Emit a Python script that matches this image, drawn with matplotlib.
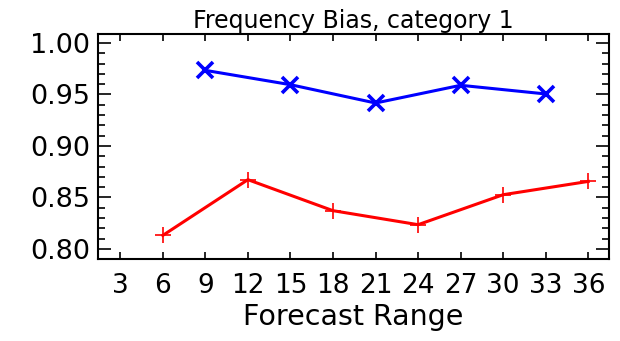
import matplotlib
matplotlib.use('Agg')
import matplotlib.pyplot as plt
from matplotlib.ticker import MultipleLocator

# Forecast ranges (hours) and frequency bias values
blue_range = [9, 15, 21, 27, 33]
blue_bias = [0.9734, 0.9595, 0.9417, 0.9589, 0.9505]
red_range = [6, 12, 18, 24, 30, 36]
red_bias = [0.8132, 0.8673, 0.8372, 0.8236, 0.8527, 0.8656]
xticks = [3, 6, 9, 12, 15, 18, 21, 24, 27, 30, 33, 36]
yticks = [0.80, 0.85, 0.90, 0.95, 1.00]

plt.rcParams['font.family'] = 'DejaVu Sans'

fig = plt.figure(figsize=(6.2, 3.41), dpi=100)
ax = fig.add_axes([0.1585, 0.2405, 0.8235, 0.6598])

ax.plot(blue_range, blue_bias, color='#0000ff', linewidth=2.2, marker='x',
        markersize=11, markeredgewidth=2.6)
ax.plot(red_range, red_bias, color='#ff0000', linewidth=2.2, marker='+',
        markersize=12, markeredgewidth=1.2)

ax.set_xlim(1.45, 37.45)
ax.set_ylim(0.7903, 1.0087)
ax.set_xticks(xticks)
ax.set_xticklabels([str(t) for t in xticks])
ax.set_yticks(yticks)
ax.set_yticklabels(['%.2f' % t for t in yticks])
ax.yaxis.set_minor_locator(MultipleLocator(0.01))

ax.tick_params(axis='both', which='both', direction='in', top=True, right=True,
               width=1.2, colors='black')
ax.tick_params(axis='x', which='major', length=5, pad=10, labelsize=19)
ax.tick_params(axis='y', which='major', length=9.5, pad=6, labelsize=19.5)
ax.tick_params(axis='y', which='minor', length=5)
for sp in ax.spines.values():
    sp.set_linewidth(1.5)

ax.set_title('Frequency Bias, category 1', fontsize=17, pad=4)
ax.set_xlabel('Forecast Range', fontsize=20.5, labelpad=3)

fig.savefig('out.png', dpi=100)
